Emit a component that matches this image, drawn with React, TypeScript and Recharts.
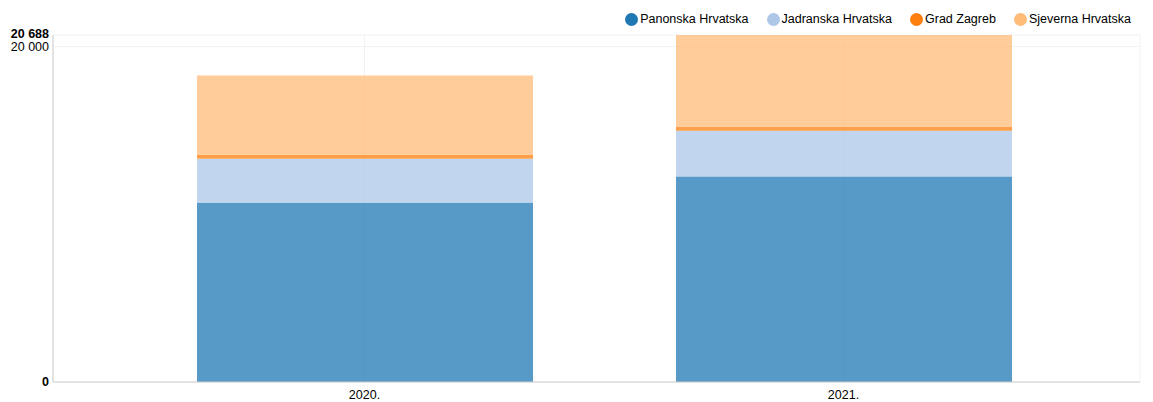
import { BarChart, Bar, XAxis, YAxis, CartesianGrid } from 'recharts'

const years = ['2020.', '2021.']
const panonska = [10690, 12257]
const jadranska = [2626, 2728]
const gradZagreb = [239, 239]
const sjeverna = [4717, 5464]
const yTicks = [0, 20000, 20688]

const series = [
  { key: 'panonska', name: 'Panonska Hrvatska', color: '#1f77b4' },
  { key: 'jadranska', name: 'Jadranska Hrvatska', color: '#aec7e8' },
  { key: 'gradZagreb', name: 'Grad Zagreb', color: '#ff7f0e' },
  { key: 'sjeverna', name: 'Sjeverna Hrvatska', color: '#ffbb78' }
]

const chartData = years.map((year, i) => ({
  year,
  panonska: panonska[i],
  jadranska: jadranska[i],
  gradZagreb: gradZagreb[i],
  sjeverna: sjeverna[i]
}))

const maxY = yTicks[yTicks.length - 1]
const fmt = (v: number) => v.toString().replace(/\B(?=(\d{3})+(?!\d))/g, ' ')
const font = 'Liberation Sans, Arial, sans-serif'

function YTick(props: any) {
  const { x, y, payload } = props
  const isMax = payload.value === maxY
  const isEdge = isMax || payload.value === 0
  return (
    <text
      x={x + 4}
      y={y}
      dy={isMax ? 3 : 4}
      textAnchor="end"
      fontSize={12.5}
      fontWeight={isEdge ? 'bold' : 'normal'}
      fill="#000"
      fontFamily={font}
    >
      {fmt(payload.value)}
    </text>
  )
}

function Legend() {
  return (
    <div
      style={{
        position: 'absolute',
        top: 12,
        right: 22,
        display: 'flex',
        alignItems: 'center',
        fontFamily: font,
        fontSize: 12.5,
        color: '#000'
      }}
    >
      {series.map((s) => (
        <div key={s.key} style={{ display: 'flex', alignItems: 'center', marginLeft: 18 }}>
          <span
            style={{
              width: 13,
              height: 13,
              borderRadius: '50%',
              background: s.color,
              display: 'inline-block',
              marginRight: 2
            }}
          />
          <span>{s.name}</span>
        </div>
      ))}
    </div>
  )
}

export default function App() {
  return (
    <div style={{ position: 'absolute', left: 0, top: 0, width: 1153, height: 402, background: '#fff' }}>
      <BarChart
        width={1153}
        height={402}
        data={chartData}
        margin={{ top: 35, right: 13, left: 0, bottom: 0 }}
      >
        <CartesianGrid stroke="#f2f2f2" />
        <XAxis
          dataKey="year"
          padding={{ left: 72, right: 57 }}
          tickLine={false}
          stroke="#ccc"
          height={20}
          tick={{ fill: '#000', fontSize: 12.5, fontFamily: font }}
        />
        <YAxis
          width={53}
          domain={[0, maxY]}
          ticks={yTicks}
          interval={0}
          tickLine={false}
          stroke="#ccc"
          tick={<YTick />}
        />
        {series.map((s) => (
          <Bar
            key={s.key}
            dataKey={s.key}
            name={s.name}
            stackId="a"
            fill={s.color}
            fillOpacity={0.75}
            barSize={336}
            isAnimationActive={false}
          />
        ))}
      </BarChart>
      <Legend />
    </div>
  )
}
